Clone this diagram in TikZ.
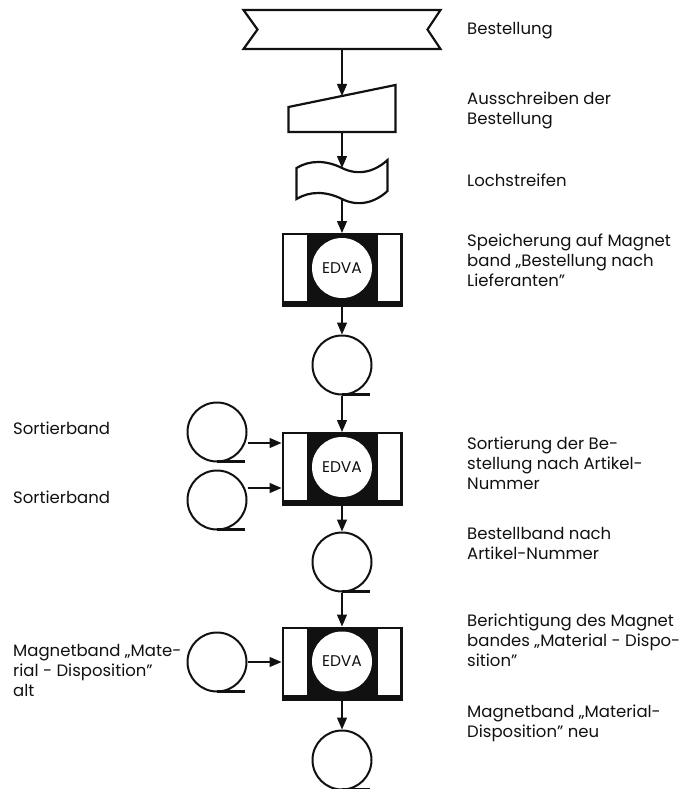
\documentclass[tikz,border=0pt]{standalone}
\usepackage{fontspec}
\setmainfont{Poppins}
\usepackage{tikz}
\usetikzlibrary{
	arrows.meta
}
\definecolor{PlanInk}{HTML}{111111}

\begin{document}
\begin{tikzpicture}[
 x=1pt,y=-1pt,
 font=\fontsize{16.5}{20}\selectfont,
 symbolbox/.style={inner sep=0pt,outer sep=0pt},
 outline/.style={draw=PlanInk,line width=2.2pt,line join=miter},
 edvabox/.style={rectangle,fill=PlanInk,minimum width=121,minimum height=74,
   inner sep=0pt,outer sep=0pt},
 edvapanel/.style={fill=white},
 edvacore/.style={circle,fill=white,minimum size=60,inner sep=0pt,
   text=PlanInk,font=\fontsize{15.5}{18}\selectfont},
 reel/.style={circle,draw=PlanInk,line width=2pt,minimum size=59,inner sep=0pt},
 reeltail/.style={draw=PlanInk,line width=3pt},
 flow/.style={-{Triangle[length=12pt,width=10pt]},draw=PlanInk,line width=1.2pt},
 note/.style={anchor=west,align=left,inner sep=0pt,text=PlanInk}
]
 \useasboundingbox (0,0) rectangle (679,789);
 % Bestellung
 \node[symbolbox,minimum width=197,minimum height=39] (bestellung) at (342,29.5) {};
 \draw[outline] (bestellung.north west) -- (bestellung.north east)
   -- ([shift={(-13,0)}]bestellung.east) -- (bestellung.south east)
   -- (bestellung.south west) -- ([shift={(14,0)}]bestellung.west) -- cycle;
 % manuelle Eingabe
 \node[symbolbox,minimum width=107,minimum height=47] (ausschreiben) at (342,108.5) {};
 \draw[outline] (ausschreiben.south west) -- (ausschreiben.south east)
   -- (ausschreiben.north east) -- ([shift={(0,22)}]ausschreiben.north west) -- cycle;
 \coordinate (ausschreibenTop) at ([shift={(0,11)}]ausschreiben.north);
 % Lochstreifen
 \node[symbolbox,minimum width=91,minimum height=31] (lochstreifen) at (342,183.5) {};
 \draw[outline] (lochstreifen.north west)
   .. controls +(13,-8) and +(-16,-8) .. (lochstreifen.north)
   .. controls +(16,8) and +(-13,12) .. ([shift={(0,-8)}]lochstreifen.north east)
   -- ([shift={(0,-8)}]lochstreifen.south east)
   .. controls +(-13,12) and +(16,8) .. (lochstreifen.south)
   .. controls +(-16,-8) and +(13,-8) .. (lochstreifen.south west) -- cycle;
 % EDVA
 \node[edvabox] (edva1) at (342,270) {};
 \node[edvabox] (edva2) at (342,469) {};
 \node[edvabox] (edva3) at (342,663.5) {};
 \foreach \e in {edva1,edva2,edva3}{
   \fill[edvapanel] ([shift={(2,2)}]\e.north west) rectangle ([shift={(25,-6)}]\e.south west);
   \fill[edvapanel] ([shift={(-25,2)}]\e.north east) rectangle ([shift={(-3,-6)}]\e.south east);
   \node[edvacore] (\e-core) at ([shift={(0,-2)}]\e.center) {EDVA};
 }
 % Magnetbaender
 \node[reel] (band1) at (342,365) {};
 \node[reel] (sort1) at (217,432) {};
 \node[reel] (sort2) at (217,500) {};
 \node[reel] (band2) at (342,562) {};
 \node[reel] (mdalt) at (217,662) {};
 \node[reel] (mdneu) at (342,760) {};
 \foreach \r in {band1,sort1,sort2,band2,mdalt,mdneu}
   \draw[reeltail] ([shift={(0,-1.5)}]\r.south) -- ++(28,0);
 % Fluss
 \draw[flow] (bestellung.south) -- (ausschreibenTop);
 \draw[flow] (ausschreiben.south) -- (lochstreifen.north);
 \draw[flow] (lochstreifen.south) -- (edva1.north);
 \draw[flow] (edva1.south) -- (band1.north);
 \draw[flow] (band1.south) -- (edva2.north);
 \coordinate (edva2in1) at ([shift={(0,-26)}]edva2.west);
 \coordinate (edva2in2) at ([shift={(0,19)}]edva2.west);
 \draw[flow] (sort1.east |- edva2in1) -- (edva2in1);
 \draw[flow] (sort2.east |- edva2in2) -- (edva2in2);
 \draw[flow] (edva2.south) -- (band2.north);
 \draw[flow] (band2.south) -- (edva3.north);
 \draw[flow] (mdalt.east) -- (mdalt.east -| edva3.west);
 \draw[flow] (edva3.south) -- (mdneu.north);
 % Texte
 \node[note] (tBestellung) at (467,31) {Bestellung};
 \node[note] (tAusschreiben) at (467,110) {Ausschreiben der\\Bestellung};
 \node[note] (tLochstreifen) at (467,180) {Lochstreifen};
 \node[note] (tSpeicherung) at (467,260)
   {Speicherung auf Magnet\\band „Bestellung nach\\Lieferanten"};
 \node[note] (tSortierung) at (467,463)
   {Sortierung der Be-\\stellung nach Artikel-\\Nummer};
 \node[note] (tBestellband) at (467,543) {Bestellband nach\\Artikel-Nummer};
 \node[note] (tBerichtigung) at (467,640)
   {Berichtigung des Magnet\\bandes „Material - Dispo-\\sition"};
 \node[note] (tMdNeu) at (467,723) {Magnetband „Material-\\Disposition" neu};
 \node[note] (tSort1) at (13,428) {Sortierband};
 \node[note] (tSort2) at (13,497) {Sortierband};
 \node[note] (tMdAlt) at (13,670) {Magnetband „Mate-\\rial - Disposition"\\alt};
\end{tikzpicture}
\end{document}
